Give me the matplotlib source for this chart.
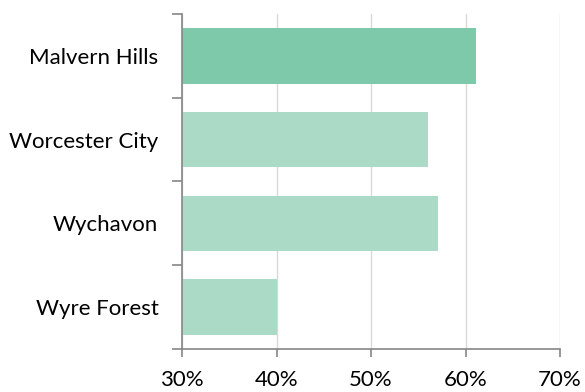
import numpy as np
import matplotlib.pyplot as plt
from matplotlib.ticker import FixedLocator, PercentFormatter

# Data
districts = ["Malvern Hills", "Worcester City", "Wychavon", "Wyre Forest"]
values = [61.1, 56.0, 57.1, 40.1]
colors = ["#7fc9ab", "#abdbc6", "#abdbc6", "#abdbc6"]

plt.rcParams["font.family"] = ["Lato", "DejaVu Sans"]

fig = plt.figure(figsize=(5.85, 3.92), dpi=100)
ax = fig.add_axes([0.3111, 0.1097, 0.6462, 0.8546])

y = np.arange(len(districts))
ax.barh(y, values, height=0.665, color=colors, left=0, zorder=2)

ax.set_xlim(30, 70)
ax.set_ylim(len(districts) - 0.5, -0.5)
ax.set_xticks([30, 40, 50, 60, 70])
ax.xaxis.set_major_formatter(PercentFormatter(decimals=0))
ax.grid(axis="x", color="#d9d9d9", linewidth=1, zorder=0)

ax.set_yticks(y)
ax.set_yticklabels(districts)
ax.yaxis.set_minor_locator(FixedLocator(np.arange(-0.5, len(districts), 1)))
ax.tick_params(axis="y", which="major", length=0, pad=17, labelsize=16)
ax.tick_params(axis="y", which="minor", length=7, width=1.2, color="#868686")
ax.tick_params(axis="x", length=6, width=1.2, color="#868686", labelsize=16, pad=9)

for side in ["top", "right"]:
    ax.spines[side].set_visible(False)
for side in ["left", "bottom"]:
    ax.spines[side].set_color("#868686")
    ax.spines[side].set_linewidth(1.2)
ax.spines["left"].set_zorder(3)

fig.savefig("out.png", dpi=100)
